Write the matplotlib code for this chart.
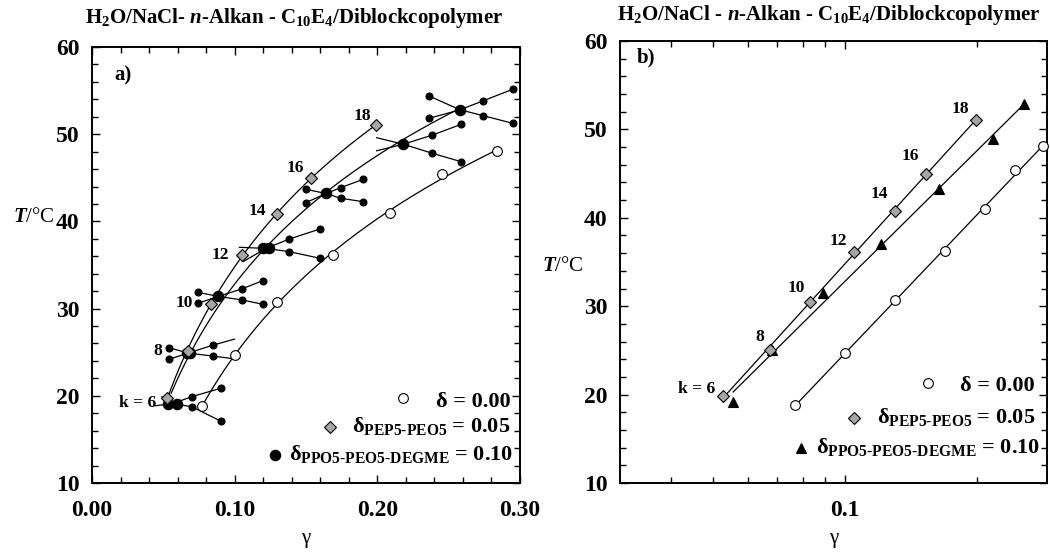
import numpy as np
import matplotlib
matplotlib.use("Agg")
import matplotlib.pyplot as plt
from matplotlib.ticker import MultipleLocator, FixedLocator, NullFormatter, FixedFormatter

plt.rcParams['font.family'] = 'Liberation Serif'
plt.rcParams['font.weight'] = 'bold'
plt.rcParams['mathtext.fontset'] = 'custom'
plt.rcParams['mathtext.rm'] = 'Liberation Serif:bold'
plt.rcParams['mathtext.bf'] = 'Liberation Serif:bold'
plt.rcParams['mathtext.it'] = 'Liberation Serif:italic:bold'
plt.rcParams['mathtext.default'] = 'rm'

# chain length k of the n-alkane
k_labels = ['k = 6', '8', '10', '12', '14', '16', '18']

# delta = 0.00 (pure C10E4)
g_pure = [0.077, 0.100, 0.130, 0.169, 0.209, 0.245, 0.284]
T_pure = [18.8, 24.7, 30.7, 36.2, 41.0, 45.4, 48.1]

# delta = 0.05, PEP5-PEO5
g_pep = [0.0525, 0.0674, 0.0832, 0.105, 0.130, 0.1535, 0.199]
T_pep = [19.8, 25.1, 30.5, 36.1, 40.8, 45.0, 51.1]

# delta = 0.10, PPO5-PEO5-DEGME (X-points)
g_ppo = [0.0555, 0.068, 0.0892, 0.121, 0.164, 0.2183, 0.257]
T_ppo = [19.2, 25.0, 31.5, 37.0, 43.25, 48.95, 52.9]

# X-points as plotted in the linear panel (some overlap)
g_xpt = [0.0535, 0.0594, 0.0664, 0.0687, 0.0885, 0.120, 0.1243, 0.164, 0.2182, 0.258]
T_xpt = [19.1, 19.05, 24.9, 24.9, 31.4, 36.9, 36.9, 43.2, 48.85, 52.8]

# phase boundaries around each X-point (rising and falling branch)
branch_up_g = [[0.0442, 0.0565, 0.0699, 0.0902], [0.0542, 0.0675, 0.0846, 0.0998],
               [0.0741, 0.0885, 0.1049, 0.1196], [0.106, 0.122, 0.1383, 0.1598],
               [0.150, 0.164, 0.1743, 0.1902], [0.1995, 0.2182, 0.2386, 0.2587],
               [0.2362, 0.258, 0.2743, 0.2949]]
branch_up_T = [[18.86, 19.1, 19.9, 20.86], [24.2, 24.9, 25.8, 26.5],
               [30.6, 31.4, 32.25, 33.2], [35.4, 36.9, 37.98, 39.13],
               [42.15, 43.2, 43.87, 44.83], [48.1, 48.85, 49.9, 51.13],
               [51.82, 52.8, 53.84, 55.15]]
branch_dn_g = [[0.0489, 0.0565, 0.0699, 0.0902], [0.0542, 0.0675, 0.0846, 0.097],
               [0.0741, 0.0885, 0.1049, 0.1196], [0.1033, 0.122, 0.1383, 0.1598],
               [0.150, 0.164, 0.1743, 0.1902], [0.1995, 0.2182, 0.2386, 0.2587],
               [0.2362, 0.258, 0.2743, 0.2949]]
branch_dn_T = [[19.9, 19.1, 18.75, 17.1], [25.5, 24.9, 24.56, 24.3],
               [31.87, 31.4, 31.0, 30.5], [37.03, 36.9, 36.53, 35.77],
               [43.68, 43.2, 42.65, 42.26], [49.6, 48.85, 47.81, 46.85],
               [54.38, 52.8, 52.12, 51.25]]

# measured points on the branches
g_dots = [0.0699, 0.0902, 0.0699, 0.0902,
          0.0542, 0.0846, 0.0542, 0.0846,
          0.0741, 0.1049, 0.1196, 0.0741, 0.1049, 0.1196,
          0.1383, 0.1598, 0.1383, 0.1598,
          0.150, 0.1743, 0.1902, 0.150, 0.1743, 0.1902,
          0.2386, 0.2587, 0.2386, 0.2587,
          0.2362, 0.2743, 0.2949, 0.2362, 0.2743, 0.2949]
T_dots = [19.9, 20.86, 18.75, 17.1,
          24.2, 25.8, 25.5, 24.56,
          30.6, 32.25, 33.2, 31.87, 31.0, 30.5,
          37.98, 39.13, 36.53, 35.77,
          42.15, 43.87, 44.83, 43.68, 42.65, 42.26,
          49.9, 51.13, 47.81, 46.85,
          51.82, 53.84, 55.15, 54.38, 52.12, 51.25]

# label offsets (points) relative to the PEP5-PEO5 symbols
off_a = [(-8, -4), (-19, 0), (-13, 1), (-9, 0), (-8, 2.6), (-5, 7), (-3.6, 6.5)]
off_b = [(-5, 5), (-4, 9), (-4, 10), (-5, 8), (-5, 12), (-5, 13), (-4.5, 8)]


def log_fit(g, t):
    c = np.polyfit(np.log10(g), t, 1)
    gg = np.geomspace(min(g), max(g), 200)
    return gg, np.polyval(c, np.log10(gg))


def style_axes(ax):
    ax.set_ylim(10, 60)
    ax.yaxis.set_major_locator(MultipleLocator(10))
    ax.yaxis.set_minor_locator(MultipleLocator(2))
    ax.tick_params(which='both', direction='in', top=True, right=True,
                   labelsize=17, width=1.0)
    ax.tick_params(which='major', length=6)
    ax.tick_params(which='minor', length=4)
    ax.tick_params(axis='y', pad=9)
    ax.tick_params(axis='x', pad=12)
    for s in ax.spines.values():
        s.set_linewidth(1.4)
    ax.set_xlabel('γ', fontsize=15, fontweight='normal', labelpad=6)


fig = plt.figure(figsize=(10.5, 5.54), dpi=100)
ax_a = fig.add_axes([92 / 1050, 1 - 483 / 554, 428 / 1050, 436 / 554])
ax_b = fig.add_axes([620 / 1050, 1 - 483 / 554, 427 / 1050, 442 / 554])

lw = 0.9
mk = dict(markeredgecolor='black', markeredgewidth=0.8, linestyle='none')

# ---- panel a: linear gamma ----
ax = ax_a
for gs, ts in [(g_pure, T_pure), (g_pep, T_pep), (g_ppo, T_ppo)]:
    gg, tt = log_fit(gs, ts)
    ax.plot(gg, tt, color='black', lw=lw, zorder=2)
for i in range(len(branch_up_g)):
    ax.plot(branch_up_g[i], branch_up_T[i], color='black', lw=lw, zorder=2)
    ax.plot(branch_dn_g[i], branch_dn_T[i], color='black', lw=lw, zorder=2)
ax.plot(g_dots, T_dots, marker='o', ms=5, color='black', zorder=3, clip_on=False, **mk)
ax.plot(g_xpt, T_xpt, marker='o', ms=7.5, color='black', zorder=4, **mk)
ax.plot(g_pep, T_pep, marker='D', ms=6.5, color='#a6a6a6', zorder=5, **mk)
ax.plot(g_pure, T_pure, marker='o', ms=7, color='white', zorder=5, **mk)
for i, lab in enumerate(k_labels):
    ax.annotate(lab, (g_pep[i], T_pep[i]), xytext=off_a[i], textcoords='offset points',
                ha='right', va='center', fontsize=12.5)

ax.set_xlim(0, 0.30)
ax.xaxis.set_major_locator(MultipleLocator(0.1))
ax.xaxis.set_minor_locator(MultipleLocator(0.02))
ax.xaxis.set_major_formatter(plt.FormatStrFormatter('%.2f'))
style_axes(ax)
ax.set_ylabel(r'$\mathit{T}$/°C', fontsize=15, rotation=0, va='center')
ax.yaxis.set_label_coords(-0.135, 0.61)
ax.text(0.053, 0.935, 'a)', transform=ax.transAxes, fontsize=15, va='center')

# legend a
ax.plot([0.727], [0.195], transform=ax.transAxes, marker='o', ms=7, color='white', clip_on=False, **mk)
ax.plot([0.556], [0.128], transform=ax.transAxes, marker='D', ms=6.5, color='#a6a6a6', clip_on=False, **mk)
ax.plot([0.428], [0.064], transform=ax.transAxes, marker='o', ms=7.5, color='black', clip_on=False, **mk)
ax.text(0.977, 0.175, 'δ = 0.00', transform=ax.transAxes, ha='right', va='baseline', fontsize=16)
ax.text(0.977, 0.118, r'$\delta_{\text{PEP5-PEO5}}$ = 0.05', transform=ax.transAxes,
        ha='right', va='baseline', fontsize=16)
ax.text(0.985, 0.053, r'$\delta_{\text{PPO5-PEO5-DEGME}}$ = 0.10', transform=ax.transAxes,
        ha='right', va='baseline', fontsize=16)
fig.text(294 / 1050, 1 - 18 / 554, r'H$_2$O/NaCl- $\mathit{n}$-Alkan - C$_{10}$E$_4$/Diblockcopolymer',
         ha='center', va='center', fontsize=15)

# ---- panel b: logarithmic gamma ----
ax = ax_b
for gs, ts in [(g_pure, T_pure), (g_pep, T_pep), (g_ppo, T_ppo)]:
    gg, tt = log_fit(gs, ts)
    ax.plot(gg, tt, color='black', lw=lw, zorder=2)
ax.plot(g_ppo, T_ppo, marker='^', ms=7.5, color='black', zorder=3, **mk)
ax.plot(g_pep, T_pep, marker='D', ms=6.5, color='#a6a6a6', zorder=4, **mk)
ax.plot(g_pure, T_pure, marker='o', ms=7, color='white', zorder=4, clip_on=False, **mk)
for i, lab in enumerate(k_labels):
    ax.annotate(lab, (g_pep[i], T_pep[i]), xytext=off_b[i], textcoords='offset points',
                ha='right', va='center', fontsize=12.5)

ax.set_xscale('log')
ax.set_xlim(0.0306, 0.2896)
ax.xaxis.set_major_locator(FixedLocator([0.1]))
ax.xaxis.set_major_formatter(FixedFormatter(['0.1']))
ax.xaxis.set_minor_locator(FixedLocator([0.04, 0.05, 0.06, 0.07, 0.08, 0.09, 0.2]))
ax.xaxis.set_minor_formatter(NullFormatter())
style_axes(ax)
ax.set_ylabel(r'$\mathit{T}$/°C', fontsize=15, rotation=0, va='center')
ax.yaxis.set_label_coords(-0.133, 0.49)
ax.text(0.04, 0.962, 'b)', transform=ax.transAxes, fontsize=15, va='center')

# legend b
ax.plot([0.721], [0.226], transform=ax.transAxes, marker='o', ms=7, color='white', clip_on=False, **mk)
ax.plot([0.548], [0.147], transform=ax.transAxes, marker='D', ms=6.5, color='#a6a6a6', clip_on=False, **mk)
ax.plot([0.424], [0.079], transform=ax.transAxes, marker='^', ms=7.5, color='black', clip_on=False, **mk)
ax.text(0.972, 0.209, 'δ = 0.00', transform=ax.transAxes, ha='right', va='baseline', fontsize=16)
ax.text(0.972, 0.135, r'$\delta_{\text{PEP5-PEO5}}$ = 0.05', transform=ax.transAxes,
        ha='right', va='baseline', fontsize=16)
ax.text(0.984, 0.067, r'$\delta_{\text{PPO5-PEO5-DEGME}}$ = 0.10', transform=ax.transAxes,
        ha='right', va='baseline', fontsize=16)
fig.text(829 / 1050, 1 - 15 / 554, r'H$_2$O/NaCl - $\mathit{n}$-Alkan - C$_{10}$E$_4$/Diblockcopolymer',
         ha='center', va='center', fontsize=15)

fig.savefig('out.png', dpi=100)
